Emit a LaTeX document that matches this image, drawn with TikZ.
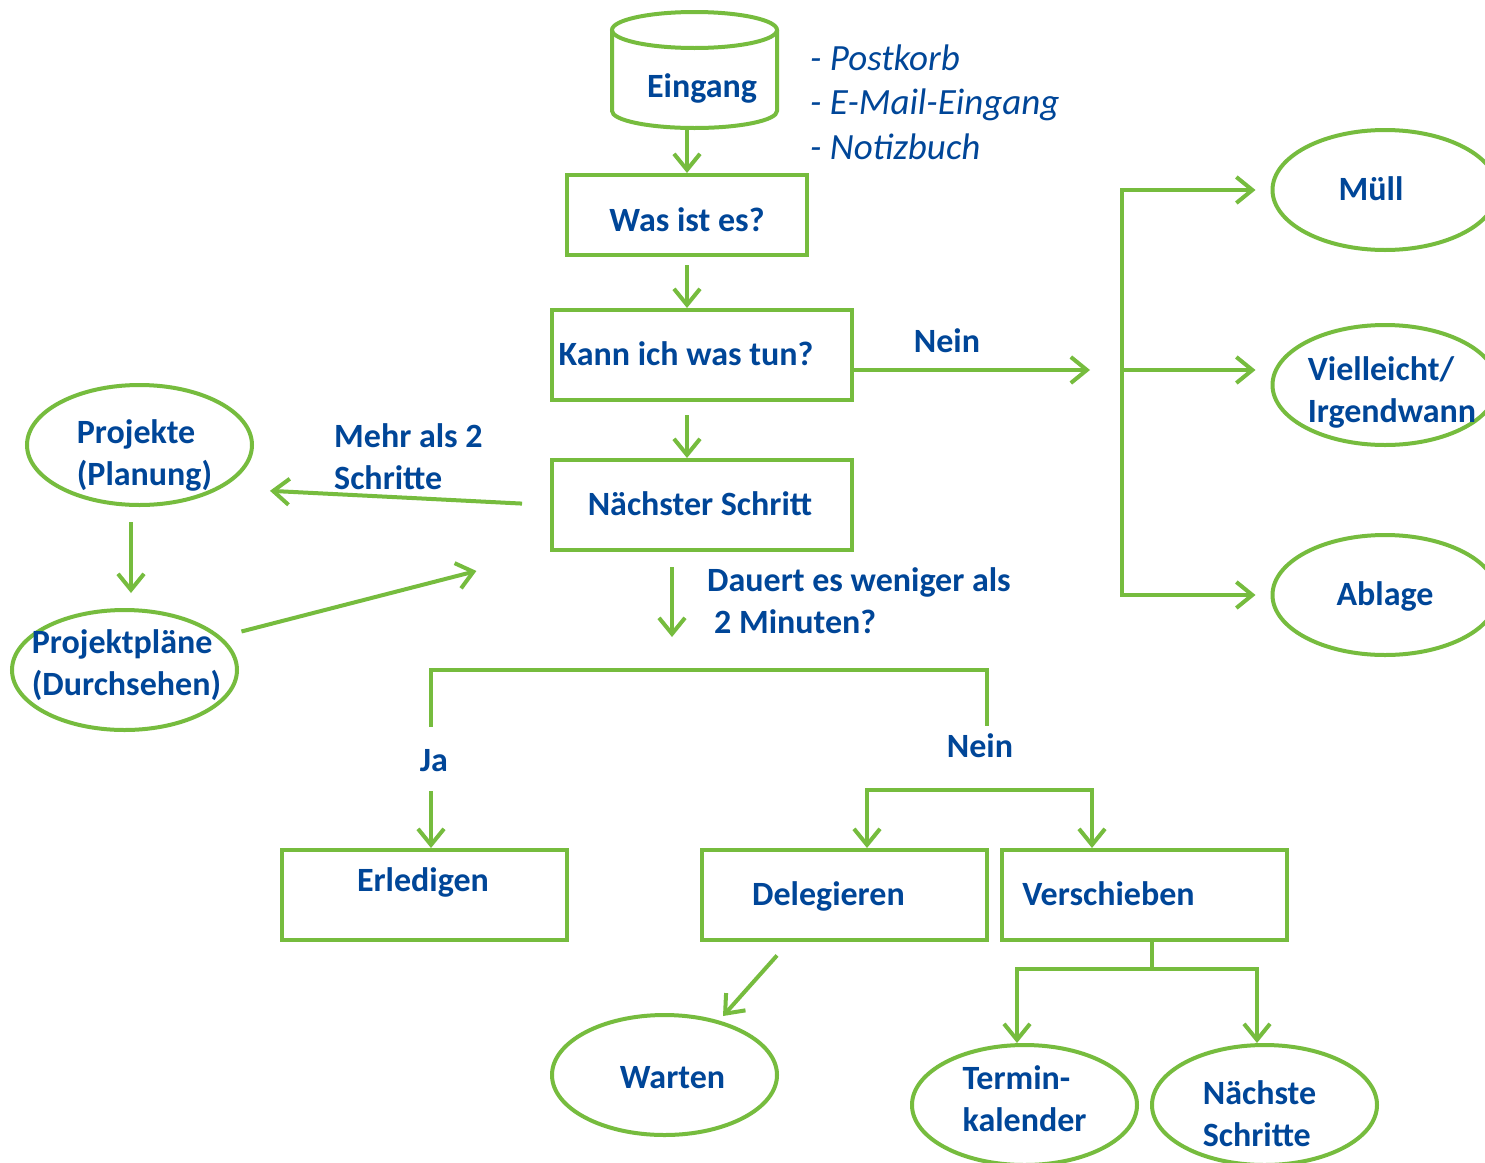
\documentclass[tikz,border=0pt]{standalone}
\usepackage{fontspec}
\setmainfont{Carlito}
\usetikzlibrary{arrows.meta,shapes.geometric}
\definecolor{gtdgreen}{RGB}{118,188,62}
\definecolor{gtdblue}{RGB}{0,70,152}
\newcommand\mytx[3]{\makebox[0pt]{\hspace*{#1pt}\raisebox{#2pt}{#3}}}
\newcommand\two[2]{\begin{tabular}{@{}l@{}}#1\\#2\end{tabular}}
\begin{document}
\begin{tikzpicture}[x=1pt,y=-1pt,
  ln/.style={draw=gtdgreen,line width=4pt},
  arr/.style={ln,-{Straight Barb[length=16pt,width=26pt]}},
  arrb/.style={ln,{Straight Barb[length=16pt,width=26pt]}-{Straight Barb[length=16pt,width=26pt]}},
  base/.style={text=gtdblue,font=\fontsize{34}{42}\selectfont\bfseries,inner sep=0pt,outer sep=2pt,text height=24pt,text depth=2.5pt},
  box/.style={base,draw=gtdgreen,line width=4pt,rectangle},
  ell/.style={base,draw=gtdgreen,line width=4pt,ellipse,minimum width=225pt,minimum height=120pt},
  lbl/.style={text=gtdblue,font=\fontsize{34}{42}\selectfont\bfseries,inner sep=0pt},
]
\fill[white] (0,0) rectangle (1485,1162);
\clip (0,0) rectangle (1485,1162);

% Eingang (cylinder)
\node[base,minimum width=165pt,minimum height=116pt,outer sep=0pt] (ein) at (694.5,70) {\mytx{15}{-17}{Eingang}};
\draw[ln] ([yshift=-18pt]ein.north west) -- ([yshift=17pt]ein.south west)
  arc[start angle=180,end angle=360,x radius=82.5pt,y radius=17pt] -- ([yshift=-18pt]ein.north east);
\draw[ln] ([yshift=-18pt]ein.north) ellipse[x radius=82.5pt,y radius=18pt];

\node[lbl,font=\fontsize{37}{44.5}\selectfont\itshape,anchor=west] (lst) at (810,106)
  {\begin{tabular}{@{}l@{}}- Postkorb\\- E-Mail-Eingang\\- Notizbuch\end{tabular}};

% boxes
\node[box,minimum width=240pt,minimum height=80pt] (was) at (687,215) {\mytx{0}{-6}{Was ist es?}};
\node[box,minimum width=300pt,minimum height=90pt] (kann) at (702,355) {\mytx{-32}{0}{Kann ich was tun?}};
\node[box,minimum width=300pt,minimum height=90pt] (nae) at (702,505) {\mytx{-4}{0}{Nächster Schritt}};
\node[box,minimum width=285pt,minimum height=90pt] (erl) at (424.5,895) {\mytx{-3}{14}{Erledigen}};
\node[box,minimum width=285pt,minimum height=90pt] (del) at (844.5,895) {\mytx{-32}{0}{Delegieren}};
\node[box,minimum width=285pt,minimum height=90pt] (ver) at (1144.5,895) {\mytx{-72}{0}{Verschieben}};

% ellipses
\node[ell] (muell) at (1385,190) {\mytx{-28}{0}{Müll}};
\node[ell] (viel) at (1385,385) {\mytx{14}{-4}{\two{Vielleicht/}{Irgendwann}}};
\node[ell] (abl) at (1385,595) {\mytx{0}{0}{Ablage}};
\node[ell] (proj) at (139.5,445) {\mytx{10}{-7}{\two{Projekte}{(Planung)}}};
\node[ell] (plan) at (124.5,670) {\mytx{4}{8}{\two{Projektpläne}{(Durchsehen)}}};
\node[ell] (wart) at (664.5,1075) {\mytx{16}{-3}{Warten}};
\node[ell] (term) at (1024.5,1105) {\mytx{0}{7}{\two{Termin-}{kalender}}};
\node[ell] (naeS) at (1264.5,1105) {\mytx{-10}{-8}{\two{Nächste}{Schritte}}};

% labels
\node[lbl] (nein1) at (947,341) {Nein};
\node[lbl,anchor=west] (mehr) at (334,460) {\two{Mehr als 2}{Schritte}};
\node[lbl,anchor=west] (dauert) at (707,604) {\two{Dauert es weniger als}{\hspace*{7pt}2 Minuten?}};
\node[lbl] (ja) at (434,761) {Ja};
\node[lbl] (nein2) at (980,746) {Nein};

% coordinates
\coordinate (nend) at (1090,370);
\coordinate (bt) at (1122,190);
\coordinate (bm) at (1122,370);
\coordinate (bb) at (1122,595);
\coordinate (bq) at (672,670);
\coordinate (bl) at (431,670);
\coordinate (br) at (987,670);
\coordinate (dl) at (867,790);
\coordinate (dr) at (1092,790);
\coordinate (vm) at (1152,969);
\coordinate (vl) at (1017,969);
\coordinate (vr) at (1257,969);

% connectors
\draw[arr] (was.north |- ein.south) -- (was.north);
\draw[arr,shorten <=8pt] (was.south) -- (was.south |- kann.north);
\draw[arr,shorten <=13pt] (kann.south -| was.south) -- (nae.north -| was.south);
\draw[arr] (kann.east |- nend) -- (nend);
\draw[arrb,shorten <=15pt,shorten >=15pt] (muell.west) -- (bt) -- (bb) -- (abl.west);
\draw[arr,shorten >=15pt] (bm) -- (bm -| viel.west);
\draw[arr,shorten <=28pt,shorten >=16pt] (nae.west) -- ([yshift=-45pt]proj.east);
\draw[arr,shorten <=15pt,shorten >=15pt] ([xshift=-8.5pt]proj.south) -- ([xshift=6.5pt]plan.north);
\draw[arr,shorten <=21pt,shorten >=76pt] (plan.19) -- (nae.south west);
\draw[arr,shorten <=15pt,shorten >=33pt] (nae.south -| bq) -- (bq);
\draw[ln,shorten <=23pt,shorten >=8pt] (ja.north -| bl) -- (bl) -- (br) -- (nein2.north -| br);
\draw[arr,shorten <=19pt] (ja.south -| bl) -- (erl.north -| bl);
\draw[arrb] (del.north -| dl) -- (dl) -- (dr) -- (ver.north -| dr);
\draw[arr,shorten <=18pt,shorten >=6pt] ([xshift=-55.5pt]del.south) -- (wart.45);
\draw[ln] ([xshift=7.5pt]ver.south) -- (vm);
\draw[arrb] (term.north -| vl) -- (vl) -- (vr) -- (naeS.north -| vr);
\end{tikzpicture}
\end{document}
